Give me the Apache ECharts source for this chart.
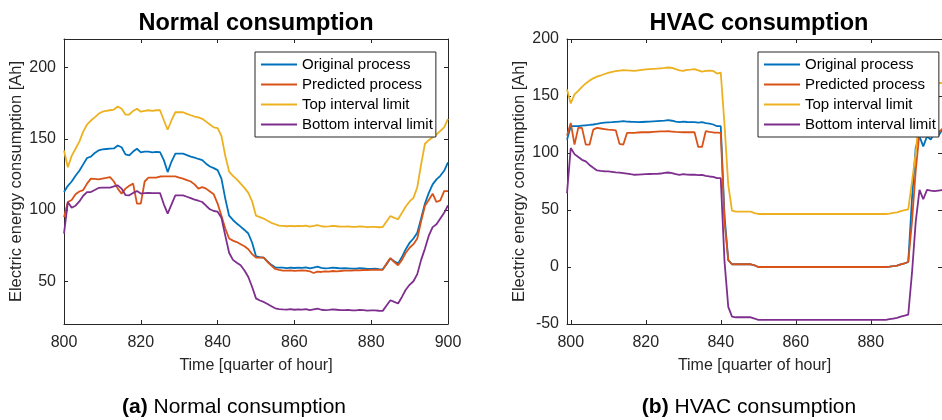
<!DOCTYPE html>
<html>
<head>
<meta charset="utf-8">
<script src="https://cdn.jsdelivr.net/npm/echarts@6/dist/echarts.min.js"></script>
<style>html,body{margin:0;padding:0;background:#fff}#c{width:942px;height:420px}</style>
</head>
<body>
<div id="c"></div>
<script>
// ---- data ----
const seriesNames = ['Original process', 'Predicted process', 'Top interval limit', 'Bottom interval limit'];
const normalTitle = 'Normal consumption';
const hvacTitle = 'HVAC consumption';
const xTicks = [800, 820, 840, 860, 880, 900];
const normalYTicks = [50, 100, 150, 200];
const hvacYTicks = [-50, 0, 50, 100, 150, 200];

const normalStart = 800, normalEnd = 900;
const hvacStart = 799, hvacEnd = 900;

const normOriginal = [
 112.6,117,120,124,127.5,132,136.5,137.5,140,141.8,
 142.5,142.8,143,143.2,145.3,144,139,138.3,141,143,
 140.5,141,141,140.5,140.8,140.6,135,126.6,134,139.5,
 139.5,139.5,138.5,137.5,136.7,135.8,135,132.5,130.5,129.4,
 128,122,108,96,93,90.5,88.3,86,83.5,77,
 67.5,67,66.6,64,61.5,59.8,59.6,59.5,59.2,59.6,
 59.3,59.5,59.4,59.8,59,59.6,60.2,59.4,59,59.2,
 59.6,59.3,59,59.2,59.1,58.8,58.9,59.2,59,58.6,
 58.7,58.8,58.5,58.4,62,66,64,62.4,67,72.5,
 77,80,84,94,104.5,112,118,121.5,124,127.5,
 133.5];
const normPredicted = [
 95,105.6,107,111,113,114,118.5,122,121.8,121.5,
 122,122.5,123.1,120,115,111.5,115,117,118.5,104.5,
 104.5,120,122.7,122.7,122.7,123.5,123.6,123.6,123.6,123.6,
 122.7,122,121,120,118,115,116,115,113,111,
 104.5,96,87,80,78.5,77.5,76,74.5,72.5,69,
 66.6,66.6,66.6,63.5,61,58.6,58,57.5,57.4,57.6,
 57.3,57.5,57.6,57.4,57,55.8,56.8,56.5,57,56.8,
 57.2,57,57.2,57.5,57.4,57.5,57.8,57.6,57.9,57.8,
 58,58.2,58,58,62.5,66.3,63.5,61.2,65,70,
 73.5,76,80,92,103,107,111.5,105.6,106.8,113.3,
 113.3];
const normTop = [
 141.8,130,138,143,148,155,160,162.8,165,167.5,
 169,169.5,170,170.5,172.6,171,167,167,169.5,171,
 169,169.5,170,169.5,170,170,163,156.3,163,168.6,
 168.6,168.6,167.5,166.5,165.6,165,164,162,160,158,
 157.5,152,138,127,124,121.5,118.5,115.5,112,106,
 96,95,94,92.5,91,90,89,88.8,88.6,88.9,
 88.6,88.8,88.7,89,88.4,88.9,89.4,88.6,88.4,88.5,
 88.9,88.6,88.3,88.4,88.5,88.2,88.2,88.5,88.3,88,
 88.1,88.2,87.9,88,92,95.8,94.5,93.5,98,102.5,
 106,108.5,116,132,146.5,149,151,153,155.5,158,
 164];
const normBottom = [
 83.4,105.6,101.6,103,106,110,112.6,112.6,114,115.5,
 115.7,115.7,115.7,116.5,117.3,115,110.5,110.3,112,113.3,
 111.5,111.8,112,111.8,111.9,111.9,104,97.4,104,110.3,
 110.3,110.3,109.3,108.3,107.3,106.5,105.6,103,100.5,99.3,
 98.8,94.5,82,70,65,63,61.2,57.5,53,46,
 38,36.5,35.5,34,32.5,31,30.5,30.2,30.1,30.4,
 30,30.2,30.1,30.5,29.8,30.3,30.8,30,29.8,29.9,
 30.3,30,29.7,29.8,29.9,29.6,29.6,29.9,29.7,29.4,
 29.5,29.6,29.3,29.2,33,36.7,35.5,34.4,39,44,
 47.5,50,55,65,72.9,82,88,90,94,98,
 103.3];

const hvacOriginal = [
 111.7,
 123.5,123.5,123.6,124,124.3,124.6,125,125.5,126.2,126.6,
 126.8,127,127.3,127.6,127.9,127.6,127.4,127.3,127,127.2,
 127.4,127.6,127.8,128,128.2,128.4,128.8,128.3,127.5,127,
 127.5,127.2,127,127,126.6,127,126.2,125.8,125,123.5,
 123.5,45,6,2.4,2.4,2.4,2.4,2.4,2.4,1.5,
 0,0,0,0,0,0,0,0,0,0,
 0,0,0,0,0,0,0,0,0,0,
 0,0,0,0,0,0,0,0,0,0,
 0,0,0,0,0,0.3,0.7,1.2,2.3,3.2,
 4.4,60,105,114.6,105.8,114.6,111.7,118,115,120,
 122];
const hvacPredicted = [
 115.3,
 126.4,107.3,122,122,107.3,107.3,120.5,122,121.5,121,
 120.5,120.2,119.9,108,107.3,117.6,117.6,117.6,118,118.2,
 118.2,118.2,118.5,118.7,118.9,119,119.1,118.8,118.5,118.3,
 118.2,118.2,118.2,118.2,105.3,105.3,119.1,118.5,118,117.8,
 117.6,40,6,2.4,2.4,2.4,2.4,2.4,2.4,1.5,
 0,0,0,0,0,0,0,0,0,0,
 0,0,0,0,0,0,0,0,0,0,
 0,0,0,0,0,0,0,0,0,0,
 0,0,0,0,0,0.3,0.7,1.2,2.3,3.2,
 4.4,40,85,118,114,122,114.6,120,118,121,
 123];
const hvacTop = [
 155.8,
 143.5,151.4,154.5,158,161,163.5,165.5,167,168,169.3,
 170.3,171.2,171.8,172.3,172.6,172.4,172.2,172,172.5,173,
 173.4,173.6,173.8,174,174.3,174.6,175,174.6,173.5,172.5,
 172,173,173.2,173.5,172.5,171.4,172,172.2,172,169.7,
 170.5,125,72,49.4,48.5,48.5,48.5,48.5,48.5,47.3,
 46.5,46.5,46.5,46.5,46.5,46.5,46.5,46.5,46.5,46.5,
 46.5,46.5,46.5,46.5,46.5,46.5,46.5,46.5,46.5,46.5,
 46.5,46.5,46.5,46.5,46.5,46.5,46.5,46.5,46.5,46.5,
 46.5,46.5,46.5,46.5,46.5,46.8,47.4,48,49,49.8,
 50.6,75,100,135,153,159.5,160.2,160.5,161,161.5,
 162];
const hvacBottom = [
 64.7,
 104.4,99,96.5,94,92.6,89.5,87,84.7,84.3,84,
 83.8,83.5,83,82.7,82.4,82,81.4,80.9,81,81.2,
 81.4,81.6,81.7,81.7,82,82.5,82.9,82.4,81.5,80.9,
 81.5,81,80.9,81,80.5,80.9,80,79.4,79,77.9,
 77.9,5,-35,-43.5,-44.1,-44.1,-44.1,-44.1,-44.1,-45.2,
 -46.4,-46.4,-46.4,-46.4,-46.4,-46.4,-46.4,-46.4,-46.4,-46.4,
 -46.4,-46.4,-46.4,-46.4,-46.4,-46.4,-46.4,-46.4,-46.4,-46.4,
 -46.4,-46.4,-46.4,-46.4,-46.4,-46.4,-46.4,-46.4,-46.4,-46.4,
 -46.4,-46.4,-46.4,-46.4,-46.4,-45.8,-45.2,-44.6,-43.6,-42.7,
 -41.7,-5,40,67.6,59.4,67.6,67,66.5,67,67.5,
 68];

// ---- chart ----
const colors = ['#0072BD', '#D95319', '#EDB120', '#7E2F8E'];
const FONT = '"Liberation Sans", Arial, Helvetica, sans-serif';
const AX = '#262626';
// thin horizontal line icon inside a 36x14 box (invisible corner points fix the bounds)
const LINE_ICON = 'path://M0,0L0.01,0M0,6.1L36,6.1L36,7.9L0,7.9ZM36,14L35.99,14';

function pairs(start, vals) { return vals.map((v, i) => [start + i, v]); }

function xAx(grid, pos, min, max, showLabel) {
  return {
    type: 'value', gridIndex: grid, position: pos, min: min, max: max,
    axisLine: { show: true, onZero: false, lineStyle: { color: AX, width: 1 } },
    axisTick: { show: true, inside: true, length: 4, customValues: xTicks, lineStyle: { color: AX } },
    axisLabel: { show: showLabel, customValues: xTicks, margin: 11, color: AX, fontSize: 16, fontFamily: FONT },
    splitLine: { show: false },
    name: showLabel ? 'Time [quarter of hour]' : '',
    nameLocation: 'middle', nameGap: 34,
    nameTextStyle: { color: AX, fontSize: 16, fontFamily: FONT }
  };
}
function yAx(grid, pos, min, max, ticks, showLabel) {
  return {
    type: 'value', gridIndex: grid, position: pos, min: min, max: max,
    axisLine: { show: true, onZero: false, lineStyle: { color: AX, width: 1 } },
    axisTick: { show: true, inside: true, length: 4, customValues: ticks, lineStyle: { color: AX } },
    axisLabel: { show: showLabel, customValues: ticks, margin: 8, color: AX, fontSize: 16, fontFamily: FONT },
    splitLine: { show: false },
    name: showLabel ? 'Electric energy consumption [Ah]' : '',
    nameLocation: 'middle', nameGap: 37, nameRotate: 90,
    nameTextStyle: { color: AX, fontSize: 16.5, fontFamily: FONT }
  };
}

function lineSeries(name, idx, xi, yi, start, vals) {
  return {
    type: 'line', name: name, xAxisIndex: xi, yAxisIndex: yi,
    data: pairs(start, vals), symbol: 'none', showSymbol: false,
    lineStyle: { color: colors[idx], width: 1.8 }, itemStyle: { color: colors[idx] },
    animation: false
  };
}

function legend(left) {
  return {
    left: left, top: 52, orient: 'vertical',
    data: seriesNames.map(n => ({ name: n, icon: LINE_ICON })),
    itemWidth: 36, itemHeight: 14, itemGap: 5,
    padding: [5, 3, 5, 6],
    borderColor: AX, borderWidth: 1, backgroundColor: '#fff',
    textStyle: { fontSize: 15, color: '#000', fontFamily: FONT },
    selectedMode: false
  };
}

const capRich = {
  b: { fontSize: 21, fontWeight: 'bold', color: '#000', fontFamily: FONT },
  n: { fontSize: 21, fontWeight: 'normal', color: '#000', fontFamily: FONT }
};

const chart = echarts.init(document.getElementById('c'), null, { renderer: 'canvas' });
chart.setOption({
  animation: false,
  backgroundColor: '#fff',
  title: [
    { text: normalTitle, left: 256, top: 12, textAlign: 'center', padding: 0,
      textStyle: { fontSize: 23.5, fontWeight: 'bold', color: '#000', fontFamily: FONT } },
    { text: hvacTitle, left: 759, top: 12, textAlign: 'center', padding: 0,
      textStyle: { fontSize: 23.5, fontWeight: 'bold', color: '#000', fontFamily: FONT } },
    { text: '{b|(a)} {n|Normal consumption}', left: 234, top: 397, textAlign: 'center', padding: 0,
      textStyle: { fontWeight: 'normal', fontSize: 21, rich: capRich } },
    { text: '{b|(b)} {n|HVAC consumption}', left: 749, top: 397, textAlign: 'center', padding: 0,
      textStyle: { fontWeight: 'normal', fontSize: 21, rich: capRich } }
  ],
  legend: [legend(255), legend(758)],
  grid: [
    { left: 64, top: 39, width: 384, height: 285 },
    { left: 567, top: 39, width: 383, height: 285 }
  ],
  xAxis: [
    xAx(0, 'bottom', normalStart, normalEnd, true),
    xAx(0, 'top', normalStart, normalEnd, false),
    xAx(1, 'bottom', hvacStart, hvacEnd - 1, true),
    xAx(1, 'top', hvacStart, hvacEnd - 1, false)
  ],
  yAxis: [
    yAx(0, 'left', 20, 220, normalYTicks, true),
    yAx(0, 'right', 20, 220, normalYTicks, false),
    yAx(1, 'left', -50, 200, hvacYTicks, true),
    yAx(1, 'right', -50, 200, hvacYTicks, false)
  ],
  series: [
    lineSeries(seriesNames[0], 0, 0, 0, normalStart, normOriginal),
    lineSeries(seriesNames[1], 1, 0, 0, normalStart, normPredicted),
    lineSeries(seriesNames[2], 2, 0, 0, normalStart, normTop),
    lineSeries(seriesNames[3], 3, 0, 0, normalStart, normBottom),
    lineSeries(seriesNames[0], 0, 2, 2, hvacStart, hvacOriginal),
    lineSeries(seriesNames[1], 1, 2, 2, hvacStart, hvacPredicted),
    lineSeries(seriesNames[2], 2, 2, 2, hvacStart, hvacTop),
    lineSeries(seriesNames[3], 3, 2, 2, hvacStart, hvacBottom)
  ]
});
</script>
</body>
</html>
